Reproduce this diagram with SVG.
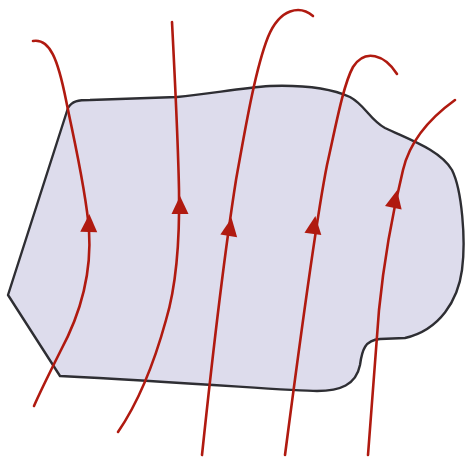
<svg xmlns="http://www.w3.org/2000/svg" width="465" height="457" viewBox="0 0 465 457">
  <defs>
    <style>
      .region { fill: #dddcec; stroke: #2e2e33; stroke-width: 2.4; stroke-linejoin: round; }
      .field { fill: none; stroke: #b01a10; stroke-width: 2.6; stroke-linecap: round; }
      .head { fill: #b01a10; }
    </style>
    <path id="arrowhead" class="head" d="M0,-10 L8.5,8 L-8.5,8 Z"/>
  </defs>
  <rect width="465" height="457" fill="#ffffff"/>
  <g id="region">
    <path class="region" d="M68,108 C72,101 78,100 90,100 L177,97 C210,94 240,88 270,86 C300,85 330,88 350,97 C365,105 370,120 385,128 C410,140 440,150 452,170 C462,190 466,240 462,270 C458,300 440,330 405,338 L380,339 C365,340 362,350 360,365 C356,385 340,391 317,391 C290,391 200,383 60,376 L8,295 Z"/>
  </g>
  <g id="field-lines">
    <g id="line1">
      <path class="field" d="M33,41 C50,38 58,60 66,100 C74,140 86,190 89,230 C92,275 80,315 60,352 C50,372 40,392 34,406"/>
      <use href="#arrowhead" transform="translate(89,224) rotate(2)"/>
    </g>
    <g id="line2">
      <path class="field" d="M172,22 C175,80 178,140 179,190 C180,250 175,290 166,320 C155,360 140,400 118,432"/>
      <use href="#arrowhead" transform="translate(180,206)"/>
    </g>
    <g id="line3">
      <path class="field" d="M313,16 C300,5 280,8 268,37 C255,70 245,130 236,180 C225,250 212,360 202,455"/>
      <use href="#arrowhead" transform="translate(230,228) rotate(9)"/>
    </g>
    <g id="line4">
      <path class="field" d="M397,74 C385,55 365,48 353,67 C343,85 335,130 327,165 C318,210 300,340 285,455"/>
      <use href="#arrowhead" transform="translate(314,226) rotate(8)"/>
    </g>
    <g id="line5">
      <path class="field" d="M455,100 C430,118 410,140 403,170 C392,215 383,270 379,310 C375,360 371,410 368,455"/>
      <use href="#arrowhead" transform="translate(395,200) rotate(12)"/>
    </g>
  </g>
</svg>
